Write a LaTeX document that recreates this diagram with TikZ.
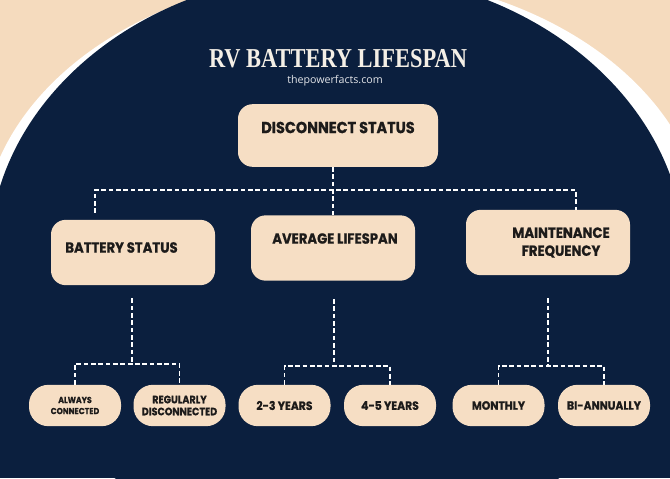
\documentclass[tikz,border=0pt]{standalone}
\usepackage{fontspec}
\newfontfamily\titlefont{Liberation Serif}[FakeStretch=0.82]
\newfontfamily\boxfont{Poppins}[FakeStretch=0.9, BoldFeatures={FakeBold=0.8}]
\newfontfamily\urlfont{Open Sans}
\definecolor{navy}{HTML}{0B1F3E}
\definecolor{peach}{HTML}{F5DBBE}
\definecolor{boxfill}{HTML}{F6DEC4}
\definecolor{ink}{HTML}{1D1B1A}
\definecolor{titlecol}{HTML}{F4EFE6}

\tikzset{
  topbox/.style={fill=boxfill, rounded corners=11pt, minimum width=150pt, minimum height=47pt, inner sep=0pt},
  midbox/.style={fill=boxfill, rounded corners=11pt, minimum width=123pt, minimum height=49pt, inner sep=0pt},
  leafbox/.style={fill=boxfill, rounded corners=14.5pt, minimum width=69pt, minimum height=31pt, inner sep=0pt,
    font=\boxfont\bfseries\fontsize{9}{10}\selectfont, text=ink, align=center},
  boxtext/.style={font=\boxfont\bfseries\fontsize{11}{13.5}\selectfont, text=ink, align=center, inner sep=0pt},
  link/.style={draw=white, line width=1.2pt, dash pattern=on 3.5pt off 2pt}
}

\begin{document}
\begin{tikzpicture}[x=0.75pt, y=-0.75pt]
  \useasboundingbox (0,0) rectangle (670,478);
  \clip (0,0) rectangle (670,478);

  % background
  \fill[peach] (0,0) rectangle (670,478);
  \fill[white] (344,240) ellipse [x radius=362, y radius=265];
  \fill[navy] (337,258) ellipse [x radius=348, y radius=286];
  \fill[navy] (0,258) rectangle (670,478);

  % heading
  \node[font=\titlefont\bfseries\fontsize{20.5}{24}\selectfont, text=titlecol] (title) at (338,58.5) {RV BATTERY LIFESPAN};
  \node[font=\urlfont\fontsize{8}{9}\selectfont, text=white!88!navy] (site) at (335,81) {thepowerfacts.com};

  % boxes
  \node[topbox] (top) at (338,135.5) {};
  \node[boxtext, font=\boxfont\bfseries\fontsize{12}{14}\selectfont] (toptxt) at (338,127.5) {DISCONNECT STATUS};

  \node[midbox] (bat) at (133,252.5) {};
  \node[midbox] (avg) at (333,248) {};
  \node[midbox] (maint) at (548,242.5) {};
  \node[boxtext] (battxt) at (121.5,247.5) {BATTERY STATUS};
  \node[boxtext] (avgtxt) at (335,238.5) {AVERAGE LIFESPAN};
  \node[boxtext] (mainttxt) at (561,242.5) {MAINTENANCE\\FREQUENCY};

  \node[leafbox, font=\boxfont\bfseries\fontsize{6.5}{8.3}\selectfont] (alw) at (75,405.5) {ALWAYS\\CONNECTED};
  \node[leafbox, font=\boxfont\bfseries\fontsize{8}{9}\selectfont] (reg) at (179.5,405.5) {REGULARLY\\DISCONNECTED};
  \node[leafbox] (y23) at (284.5,405.5) {2-3 YEARS};
  \node[leafbox] (y45) at (390,405.5) {4-5 YEARS};
  \node[leafbox] (mon) at (498.5,405.5) {MONTHLY};
  \node[leafbox] (bia) at (604,405.5) {BI-ANNUALLY};

  % connectors
  \coordinate (hub) at (333,190);
  \draw[link] (avg.north |- top.south) -- (avg.north);
  \draw[link] ([xshift=-28.5pt,yshift=5pt]bat.north) |- (hub) -| ([xshift=21pt]maint.north);

  \coordinate (batj) at (132,364);
  \coordinate (avgj) at (334,366);
  \coordinate (mntj) at (548,366);
  \draw[link] (bat.south) ++(-1,13) -- (batj);
  \draw[link] (avg.south) ++(1,18) -- (avgj);
  \draw[link] (maint.south) ++(0,23) -- (mntj);
  \draw[link] (alw.north) |- (batj) -| (reg.north);
  \draw[link] (y23.north) |- (avgj) -| (y45.north);
  \draw[link] (mon.north) |- (mntj) -| (bia.north);
\end{tikzpicture}
\end{document}
